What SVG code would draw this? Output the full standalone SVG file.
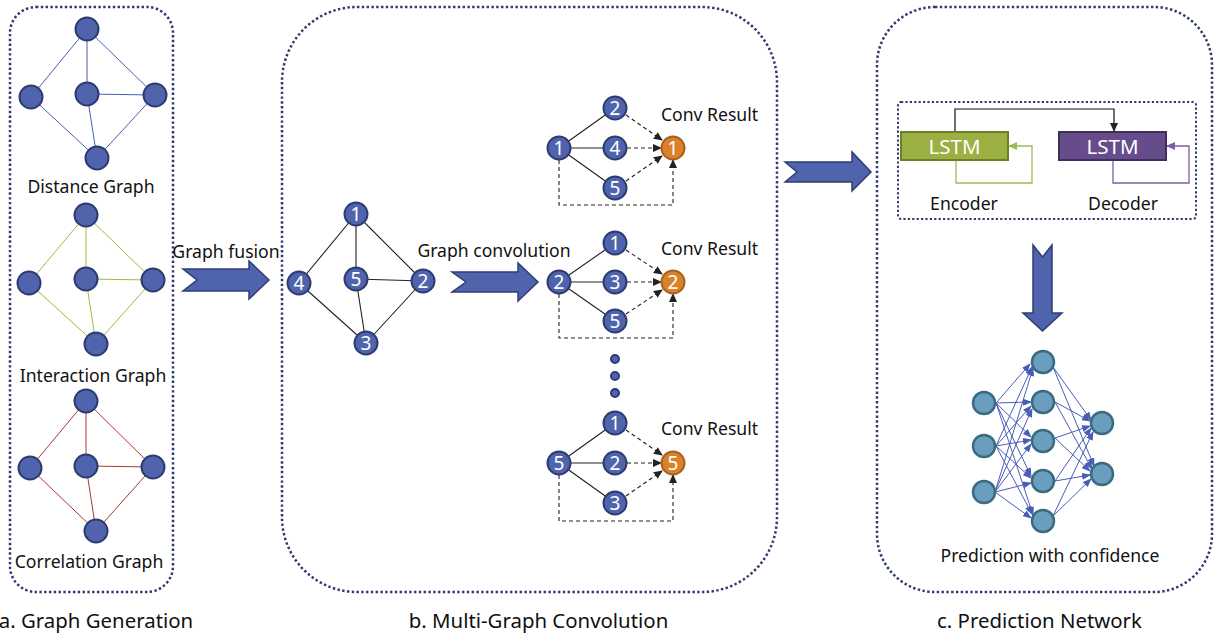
<svg xmlns="http://www.w3.org/2000/svg" width="1215" height="635" viewBox="0 0 1215 635">
<style>
text{font-family:"Noto Sans","Open Sans",sans-serif;fill:#111;}
.lbl{font-size:17.6px;text-anchor:middle;}
.ttl{font-size:20.4px;text-anchor:middle;}
.num{font-size:19px;text-anchor:middle;fill:#fff;}
.lstm{font-size:20.5px;text-anchor:middle;fill:#fff;}
.panel{fill:none;stroke:#2E3B70;stroke-width:2.5;stroke-dasharray:2.4 2.4;}
.inner{fill:none;stroke:#2E3B70;stroke-width:2;stroke-dasharray:2.2 2.2;}
.gn{fill:#4F64AD;stroke:#2E3B70;stroke-width:2;}
.on{fill:#D9822B;stroke:#A8601E;stroke-width:2;}
.nn{fill:#6A9EBE;stroke:#3C6A80;stroke-width:2.5;}
.blk{fill:#4F64AD;stroke:#2F3D73;stroke-width:1.5;}
.eb{stroke:#4A5DB5;stroke-width:1;fill:none;}
.eg{stroke:#9BBB40;stroke-width:1;fill:none;}
.er{stroke:#A33A3A;stroke-width:1;fill:none;}
.ek{stroke:#222;stroke-width:1.1;fill:none;}
.ed{stroke:#222;stroke-width:1.1;fill:none;stroke-dasharray:4 3;}
.enn{stroke:#4A5DB5;stroke-width:1;fill:none;marker-end:url(#ab);}
</style>
<defs>
<marker id="ak" markerWidth="9" markerHeight="8" refX="8" refY="4" orient="auto" markerUnits="userSpaceOnUse"><path d="M0,0 L9,4 L0,8 z" fill="#222"/></marker>
<marker id="ab" markerWidth="9" markerHeight="7" refX="8" refY="3.5" orient="auto" markerUnits="userSpaceOnUse"><path d="M0,0 L9,3.5 L0,7 z" fill="#4A5DB5"/></marker>
<marker id="ag" markerWidth="9" markerHeight="8" refX="8" refY="4" orient="auto" markerUnits="userSpaceOnUse"><path d="M0,0 L9,4 L0,8 z" fill="#9BBB59"/></marker>
<marker id="ap" markerWidth="9" markerHeight="8" refX="8" refY="4" orient="auto" markerUnits="userSpaceOnUse"><path d="M0,0 L9,4 L0,8 z" fill="#7B5EA7"/></marker>
</defs>

<g id="panels">
<rect class="panel" x="10" y="7" width="163" height="585" rx="26"/>
<rect class="panel" x="282" y="7" width="495" height="585" rx="75"/>
<rect class="panel" x="877" y="7" width="335" height="585" rx="58"/>
<rect class="inner" x="898" y="102" width="298" height="117" rx="3"/>
</g>

<g id="connectors">
<path class="eb" d="M87,29 L31,97 M87,29 L87,94 M87,29 L155,95 M87,94 L155,95 M87,94 L97,158 M31,97 L97,158 M155,95 L97,158"/>
<path class="eg" d="M86,215 L29,283 M86,215 L86,279 M86,215 L153,280 M86,279 L153,280 M86,279 L96,344 M29,283 L96,344 M153,280 L96,344"/>
<path class="er" d="M86,401 L30,468 M86,401 L86,466 M86,401 L153,467 M86,466 L153,467 M86,466 L96,531 M30,468 L96,531 M153,467 L96,531"/>
<path class="ek" d="M356,214 L299,283 M356,214 L356,279 M356,214 L423,281 M356,279 L423,281 M356,279 L366,343 M299,283 L366,343 M423,281 L366,343"/>
<path class="ek" d="M559,148 L615,108 M559,148 L615,148 M559,148 L615,188"/>
<path class="ed" marker-end="url(#ak)" d="M626,115 L662,140"/>
<path class="ed" marker-end="url(#ak)" d="M627,148 L661,148"/>
<path class="ed" marker-end="url(#ak)" d="M626,181 L662,156"/>
<path class="ed" marker-end="url(#ak)" d="M559,160 V205 H673 V160"/>
<path class="ek" d="M559,282 L615,243 M559,282 L615,282 M559,282 L615,321"/>
<path class="ed" marker-end="url(#ak)" d="M626,250 L662,274"/>
<path class="ed" marker-end="url(#ak)" d="M627,282 L661,282"/>
<path class="ed" marker-end="url(#ak)" d="M626,314 L662,290"/>
<path class="ed" marker-end="url(#ak)" d="M559,294 V338 H673 V294"/>
<path class="ek" d="M559,463 L615,423 M559,463 L615,463 M559,463 L615,503"/>
<path class="ed" marker-end="url(#ak)" d="M626,430 L662,455"/>
<path class="ed" marker-end="url(#ak)" d="M627,463 L661,463"/>
<path class="ed" marker-end="url(#ak)" d="M626,496 L662,471"/>
<path class="ed" marker-end="url(#ak)" d="M559,475 V521 H673 V475"/>
<path d="M955,132 V109 H1114 V131" stroke="#111" stroke-width="1.2" fill="none" marker-end="url(#ak)"/>
<path d="M956,160 V183 H1032 V146 H1009" stroke="#9BBB59" stroke-width="1.3" fill="none" marker-end="url(#ag)"/>
<path d="M1113,160 V183 H1189 V146 H1167" stroke="#7B5EA7" stroke-width="1.3" fill="none" marker-end="url(#ap)"/>
<g>
<path class="enn" d="M996,403 L1030,364"/><path class="enn" d="M996,403 L1031,402"/><path class="enn" d="M996,403 L1031,437"/><path class="enn" d="M996,403 L1031,476"/><path class="enn" d="M996,403 L1033,515"/>
<path class="enn" d="M996,446 L1032,367"/><path class="enn" d="M996,446 L1031,406"/><path class="enn" d="M996,446 L1031,440"/><path class="enn" d="M996,446 L1031,478"/><path class="enn" d="M996,446 L1032,514"/>
<path class="enn" d="M995,492 L1033,368"/><path class="enn" d="M995,492 L1032,409"/><path class="enn" d="M995,492 L1031,444"/><path class="enn" d="M995,492 L1031,483"/><path class="enn" d="M995,492 L1031,518"/>
<path class="enn" d="M1053,367 L1091,420"/><path class="enn" d="M1053,367 L1094,466"/>
<path class="enn" d="M1055,402 L1090,421"/><path class="enn" d="M1055,402 L1092,469"/>
<path class="enn" d="M1055,438 L1090,426"/><path class="enn" d="M1055,438 L1090,471"/>
<path class="enn" d="M1055,481 L1091,428"/><path class="enn" d="M1055,481 L1090,475"/>
<path class="enn" d="M1053,516 L1093,432"/><path class="enn" d="M1053,516 L1091,479"/>
</g>
</g>

<g id="arrows">
<polygon class="blk" points="183,269 249,269 249,261 269,280 249,299 249,291 183,291 197,280"/>
<polygon class="blk" points="452,272 518,272 518,263 538,282 518,301 518,292 452,292 466,282"/>
<polygon class="blk" points="785,162 852,162 852,152 871,172 852,191 852,182 785,182 797,172"/>
<polygon class="blk" points="1033,245 1042.5,257 1052,245 1052,313 1062,313 1042.5,331 1023,313 1033,313"/>
</g>

<g id="graph-a-nodes">
<circle class="gn" cx="87" cy="29" r="11.5"/><circle class="gn" cx="31" cy="97" r="11.5"/><circle class="gn" cx="87" cy="94" r="11.5"/><circle class="gn" cx="155" cy="95" r="11.5"/><circle class="gn" cx="97" cy="158" r="11.5"/>
<circle class="gn" cx="86" cy="215" r="11.5"/><circle class="gn" cx="29" cy="283" r="11.5"/><circle class="gn" cx="86" cy="279" r="11.5"/><circle class="gn" cx="153" cy="280" r="11.5"/><circle class="gn" cx="96" cy="344" r="11.5"/>
<circle class="gn" cx="86" cy="401" r="11.5"/><circle class="gn" cx="30" cy="468" r="11.5"/><circle class="gn" cx="86" cy="466" r="11.5"/><circle class="gn" cx="153" cy="467" r="11.5"/><circle class="gn" cx="96" cy="531" r="11.5"/>
</g>

<g id="fused-graph">
<g id="f1"><circle class="gn" cx="356" cy="214" r="11.5"/><text class="num" x="356" y="221">1</text></g>
<g id="f4"><circle class="gn" cx="299" cy="283" r="11.5"/><text class="num" x="299" y="290">4</text></g>
<g id="f5"><circle class="gn" cx="356" cy="279" r="11.5"/><text class="num" x="356" y="286">5</text></g>
<g id="f2"><circle class="gn" cx="423" cy="281" r="11.5"/><text class="num" x="423" y="288">2</text></g>
<g id="f3"><circle class="gn" cx="366" cy="343" r="11.5"/><text class="num" x="366" y="350">3</text></g>
</g>

<g id="sub1">
<circle class="gn" cx="559" cy="148" r="11.5"/><text class="num" x="559" y="155">1</text>
<circle class="gn" cx="615" cy="108" r="11.5"/><text class="num" x="615" y="115">2</text>
<circle class="gn" cx="615" cy="148" r="11.5"/><text class="num" x="615" y="155">4</text>
<circle class="gn" cx="615" cy="188" r="11.5"/><text class="num" x="615" y="195">5</text>
<circle class="on" cx="673" cy="148" r="11.5"/><text class="num" x="673" y="155">1</text>
</g>
<g id="sub2">
<circle class="gn" cx="559" cy="282" r="11.5"/><text class="num" x="559" y="289">2</text>
<circle class="gn" cx="615" cy="243" r="11.5"/><text class="num" x="615" y="250">1</text>
<circle class="gn" cx="615" cy="282" r="11.5"/><text class="num" x="615" y="289">3</text>
<circle class="gn" cx="615" cy="321" r="11.5"/><text class="num" x="615" y="328">5</text>
<circle class="on" cx="673" cy="282" r="11.5"/><text class="num" x="673" y="289">2</text>
</g>
<g id="dots">
<circle class="gn" cx="615" cy="359" r="4" stroke-width="1.5"/><circle class="gn" cx="615" cy="376" r="4" stroke-width="1.5"/><circle class="gn" cx="615" cy="393" r="4" stroke-width="1.5"/>
</g>
<g id="sub3">
<circle class="gn" cx="559" cy="463" r="11.5"/><text class="num" x="559" y="470">5</text>
<circle class="gn" cx="615" cy="423" r="11.5"/><text class="num" x="615" y="430">1</text>
<circle class="gn" cx="615" cy="463" r="11.5"/><text class="num" x="615" y="470">2</text>
<circle class="gn" cx="615" cy="503" r="11.5"/><text class="num" x="615" y="510">3</text>
<circle class="on" cx="673" cy="463" r="11.5"/><text class="num" x="673" y="470">5</text>
</g>

<g id="encoder"><rect x="901" y="132" width="107" height="28" fill="#9BB040" stroke="#6E7F2A" stroke-width="2"/><text class="lstm" x="954.5" y="154">LSTM</text></g>
<g id="decoder"><rect x="1059" y="132" width="107" height="28" fill="#674C8C" stroke="#3F2F5A" stroke-width="2"/><text class="lstm" x="1112.5" y="154">LSTM</text></g>

<g id="nn-nodes">
<circle class="nn" cx="984" cy="403" r="11"/><circle class="nn" cx="984" cy="446" r="11"/><circle class="nn" cx="984" cy="492" r="11"/>
<circle class="nn" cx="1043" cy="362" r="11"/><circle class="nn" cx="1043" cy="402" r="11"/><circle class="nn" cx="1043" cy="441" r="11"/><circle class="nn" cx="1043" cy="481" r="11"/><circle class="nn" cx="1043" cy="521" r="11"/>
<circle class="nn" cx="1102" cy="423" r="11"/><circle class="nn" cx="1102" cy="474" r="11"/>
</g>

<g id="labels">
<text class="lbl" x="91" y="193">Distance Graph</text>
<text class="lbl" x="93" y="382">Interaction Graph</text>
<text class="lbl" x="89" y="568">Correlation Graph</text>
<text class="lbl" x="226" y="258">Graph fusion</text>
<text class="lbl" x="494" y="257">Graph convolution</text>
<text class="lbl" x="709.5" y="121">Conv Result</text>
<text class="lbl" x="709.5" y="255">Conv Result</text>
<text class="lbl" x="709.5" y="435">Conv Result</text>
<text class="lbl" x="964" y="210">Encoder</text>
<text class="lbl" x="1123" y="210">Decoder</text>
<text class="lbl" x="1050" y="562">Prediction with confidence</text>
<text class="ttl" x="96" y="628">a. Graph Generation</text>
<text class="ttl" x="538.5" y="628">b. Multi-Graph Convolution</text>
<text class="ttl" x="1039.5" y="628">c. Prediction Network</text>
</g>
</svg>
